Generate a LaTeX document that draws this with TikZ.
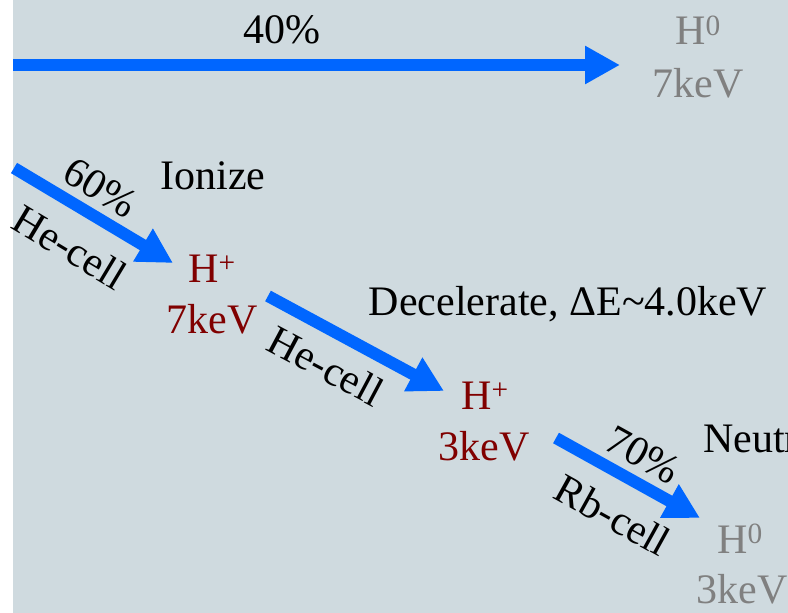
\documentclass[tikz,border=0pt]{standalone}
\usepackage{fontspec}
\setmainfont{Liberation Serif}
\usetikzlibrary{arrows.meta}
\definecolor{bgc}{RGB}{207,218,223}
\definecolor{beam}{RGB}{0,102,255}
\definecolor{ion}{RGB}{128,0,0}
\definecolor{neu}{RGB}{128,128,128}
\begin{document}
\begin{tikzpicture}[x=1pt,y=-1pt,
  lbl/.style={inner sep=0pt,font=\fontsize{42}{50}\selectfont},
  ionlbl/.style={lbl,text=ion,anchor=base},
  neulbl/.style={lbl,text=neu,anchor=base},
  txt/.style={lbl,text=black,anchor=base},
  beamarrow/.style={draw=beam,line width=12pt,-{Triangle[length=35pt,width=36pt]}}]
\useasboundingbox (0,0) rectangle (788,613);
\clip (0,0) rectangle (788,613);
\fill[white] (0,0) rectangle (788,613);
\fill[bgc] (13,0) rectangle (788,613);
% coordinates of beam ends
\coordinate (s0) at (13,65);
\coordinate (e0) at (620,65);
\coordinate (s1) at (14,168);
\coordinate (e1) at (173,263);
\coordinate (s2) at (268,296);
\coordinate (e2) at (444,391);
\coordinate (s3) at (556,438);
\coordinate (e3) at (700,518);
% arrows
\draw[beamarrow] (s0) -- (e0);
\draw[beamarrow] (s1) -- (e1);
\draw[beamarrow] (s2) -- (e2);
\draw[beamarrow] (s3) -- (e3);
% labels
\node[txt] (p40) at (282,43) {40\%};
\node[neulbl] (h0a) at (698,45) {H\textsuperscript{0}};
\node[neulbl] (k7a) at (698,97) {7keV};
\node[lbl,rotate=-31] (p60) at (101,188) {60\%};
\node[lbl,rotate=-31] (hc1) at (70,247) {He-cell};
\node[txt] (ion) at (213,189) {Ionize};
\node[ionlbl] (hp1) at (212,282) {H\textsuperscript{+}};
\node[ionlbl] (k7b) at (212,333) {7keV};
\node[lbl,rotate=-28] (hc2) at (326,366) {He-cell};
\node[txt] (dec) at (568,315) {Decelerate, ΔE\textasciitilde4.0keV};
\node[ionlbl] (hp2) at (485,409) {H\textsuperscript{+}};
\node[ionlbl] (k3a) at (484,460) {3keV};
\node[lbl,rotate=-29] (p70) at (643,455) {70\%};
\node[lbl,rotate=-29] (rbc) at (613,515) {Rb-cell};
\node[txt,anchor=base west] (neu) at (703,452) {Neutralize};
\node[neulbl] (h0b) at (740,553) {H\textsuperscript{0}};
\node[neulbl] (k3b) at (742,603) {3keV};
\end{tikzpicture}
\end{document}
